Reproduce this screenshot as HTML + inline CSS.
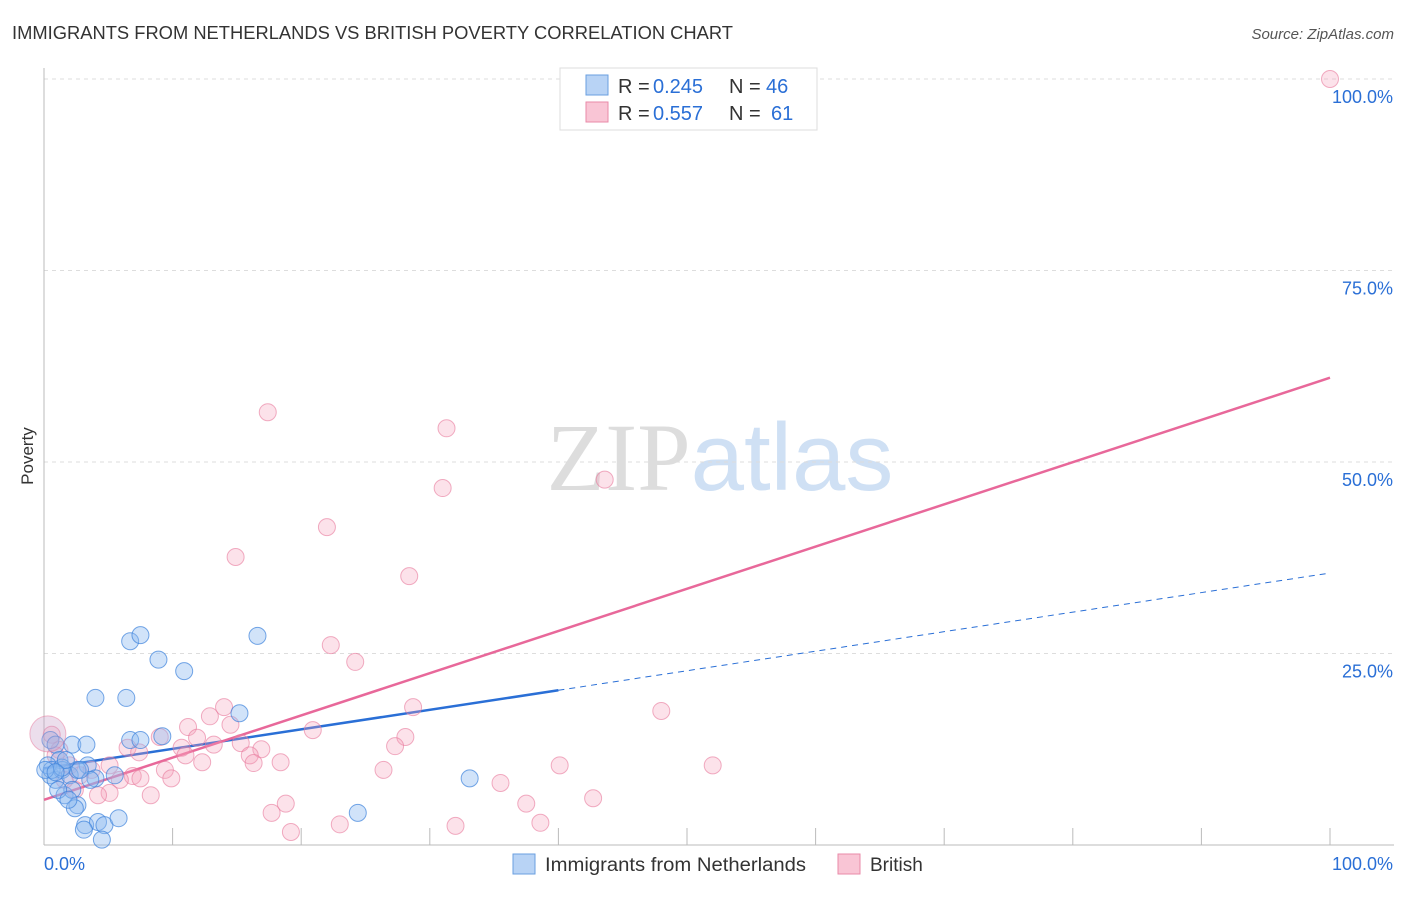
<!DOCTYPE html>
<html><head><meta charset="utf-8"><style>
body{margin:0;background:#fff;font-family:"Liberation Sans",sans-serif;}
svg text{font-family:"Liberation Sans",sans-serif;}
</style></head><body>
<svg id="chart" width="1406" height="892" xmlns="http://www.w3.org/2000/svg">
<text x="12" y="39" font-size="18" fill="#333" textLength="721" lengthAdjust="spacingAndGlyphs">IMMIGRANTS FROM NETHERLANDS VS BRITISH POVERTY CORRELATION CHART</text>
<text x="1394" y="39" font-size="15" fill="#555" text-anchor="end" font-style="italic">Source: ZipAtlas.com</text>
<text x="33" y="456" font-size="17" fill="#333" text-anchor="middle" transform="rotate(-90 33 456)">Poverty</text>
<text x="720" y="490" font-size="96" text-anchor="middle"><tspan fill="#ddd" font-family="Liberation Serif">ZIP</tspan><tspan fill="#cfe0f4">atlas</tspan></text>
<g id="grid"></g>
<g id="ticks"></g>
<g id="lines"></g>
<g id="pts"></g>
<g>
<rect x="560" y="68" width="257" height="62" fill="#fff" stroke="#ddd"/>
<rect x="586" y="75" width="22" height="20" fill="#b8d3f5" stroke="#6a9fe0"/>
<rect x="586" y="102" width="22" height="20" fill="#f9c5d5" stroke="#e98aa8"/>
<text x="618" y="93" font-size="20" fill="#333">R =</text>
<text x="653" y="93" font-size="20" fill="#2a6fd6">0.245</text>
<text x="729" y="93" font-size="20" fill="#333">N =</text>
<text x="766" y="93" font-size="20" fill="#2a6fd6">46</text>
<text x="618" y="120" font-size="20" fill="#333">R =</text>
<text x="653" y="120" font-size="20" fill="#2a6fd6">0.557</text>
<text x="729" y="120" font-size="20" fill="#333">N =</text>
<text x="771" y="120" font-size="20" fill="#2a6fd6">61</text>
</g>
<g>
<rect x="513" y="854" width="22" height="20" fill="#b8d3f5" stroke="#6a9fe0"/>
<text x="545" y="871" font-size="19" fill="#333" textLength="261" lengthAdjust="spacingAndGlyphs">Immigrants from Netherlands</text>
<rect x="838" y="854" width="22" height="20" fill="#f9c5d5" stroke="#e98aa8"/>
<text x="870" y="871" font-size="19" fill="#333">British</text>
</g>
</svg>
<script>
const blueX=[6.7,7.5,8.9,10.9,16.6,4.0,6.4,6.7,7.5,9.2,15.2,33.1,24.4,0.5,0.9,1.2,2.2,3.3,3.4,0.5,0.9,1.4,2.0,2.6,4.0,5.5,1.6,2.2,2.6,2.4,3.2,4.2,4.7,5.8,3.1,4.5,1.1,0.3,0.6,1.9,3.6,1.4,0.1,2.8,1.7,0.9];
const blueY=[26.6,27.4,24.2,22.7,27.3,19.2,19.2,13.7,13.7,14.2,17.2,8.7,4.2,13.7,13.1,11.1,13.1,13.1,10.4,9.1,8.5,9.8,9.1,9.8,8.7,9.1,6.5,7.2,5.2,4.8,2.6,3.0,2.6,3.5,2.0,0.7,7.2,10.4,9.8,5.9,8.5,10.1,9.8,9.8,11.1,9.5];
const pinkX=[100,17.4,31.3,31.0,43.6,22.0,14.9,28.4,22.3,24.2,48.0,28.7,14.0,12.9,11.2,14.5,20.9,28.1,27.3,15.3,11.9,10.7,13.2,16.9,16.0,6.5,7.4,9.0,11.0,12.3,16.3,18.4,5.1,9.4,6.9,7.5,5.9,9.9,5.1,4.2,8.3,26.4,35.5,40.1,52.0,37.5,42.7,38.6,32.0,23.0,18.8,17.7,19.2,0.6,1.2,0.9,2.0,2.8,3.7,1.6,2.4];
const pinkY=[100,56.5,54.4,46.6,47.7,41.5,37.6,35.1,26.1,23.9,17.5,18.0,18.0,16.8,15.4,15.7,15.0,14.1,12.9,13.3,14.0,12.7,13.1,12.5,11.7,12.7,12.1,14.1,11.7,10.8,10.7,10.8,10.4,9.8,9.0,8.7,8.5,8.7,6.8,6.5,6.5,9.8,8.1,10.4,10.4,5.4,6.1,2.9,2.5,2.7,5.4,4.2,1.7,14.4,12.4,11.7,10.4,9.1,9.8,8.5,7.2];
const yTicks=[25,50,75,100];
const yTickLabels=["25.0%","50.0%","75.0%","100.0%"];
const blueTrend=[10.0,35.5];
const pinkTrend=[5.9,61.0];
const X=v=>44+v*12.86, Y=v=>845-v*7.66;
const NS="http://www.w3.org/2000/svg";
function mk(tag,attrs,parent){const e=document.createElementNS(NS,tag);for(const k in attrs)e.setAttribute(k,attrs[k]);document.getElementById(parent).appendChild(e);return e;}
yTicks.forEach((t,i)=>{
 const l=mk('line',{x1:44,x2:1394,y1:Y(t),y2:Y(t),stroke:'#ddd','stroke-dasharray':'4 4'},'grid');
 
 
 const tx=mk('text',{x:1393,y:Y(t)+24,'font-size':18,fill:'#2a6fd6','text-anchor':'end'},'grid');
 tx.textContent=yTickLabels[i];
 
 
});
const ax=mk('line',{x1:44,x2:44,y1:68,y2:845,stroke:'#bbb'},'ticks');


const bx=mk('line',{x1:44,x2:1394,y1:845,y2:845,stroke:'#bbb'},'ticks');


for(let i=1;i<=10;i++){const t=mk('line',{x1:X(i*10),x2:X(i*10),y1:828,y2:845,stroke:'#bbb'},'ticks');
 
 }
[["0.0%",44,'start'],["100.0%",1393,'end']].forEach(a=>{const t=mk('text',{x:a[1],y:870,'font-size':18,fill:'#2a6fd6','text-anchor':a[2]},'ticks');t.textContent=a[0];
 
 });
pinkX.forEach((x,i)=>{const c=mk('circle',{cx:X(x),cy:Y(pinkY[i]),r:8.5,fill:'rgba(244,160,185,0.3)',stroke:'rgba(232,120,155,0.6)'},'pts');
 
 });
blueX.forEach((x,i)=>{const c=mk('circle',{cx:X(x),cy:Y(blueY[i]),r:8.5,fill:'rgba(140,185,240,0.4)',stroke:'rgba(60,130,220,0.7)'},'pts');
 
 });
const big=mk('circle',{cx:X(0.3),cy:Y(14.5),r:18,fill:'rgba(200,160,200,0.35)',stroke:'rgba(232,120,155,0.5)'},'pts');


const by=x=>blueTrend[0]+(blueTrend[1]-blueTrend[0])*x/100;
const py=x=>pinkTrend[0]+(pinkTrend[1]-pinkTrend[0])*x/100;
const b1=mk('line',{x1:X(0),y1:Y(by(0)),x2:X(40),y2:Y(by(40)),stroke:'#2a6fd6','stroke-width':2.5},'lines');


const b2=mk('line',{x1:X(40),y1:Y(by(40)),x2:X(100),y2:Y(by(100)),stroke:'#2a6fd6','stroke-width':1,'stroke-dasharray':'6 5'},'lines');


const p1=mk('line',{x1:X(0),y1:Y(py(0)),x2:X(100),y2:Y(py(100)),stroke:'#e8689a','stroke-width':2.5},'lines');


</script>
</body></html>
